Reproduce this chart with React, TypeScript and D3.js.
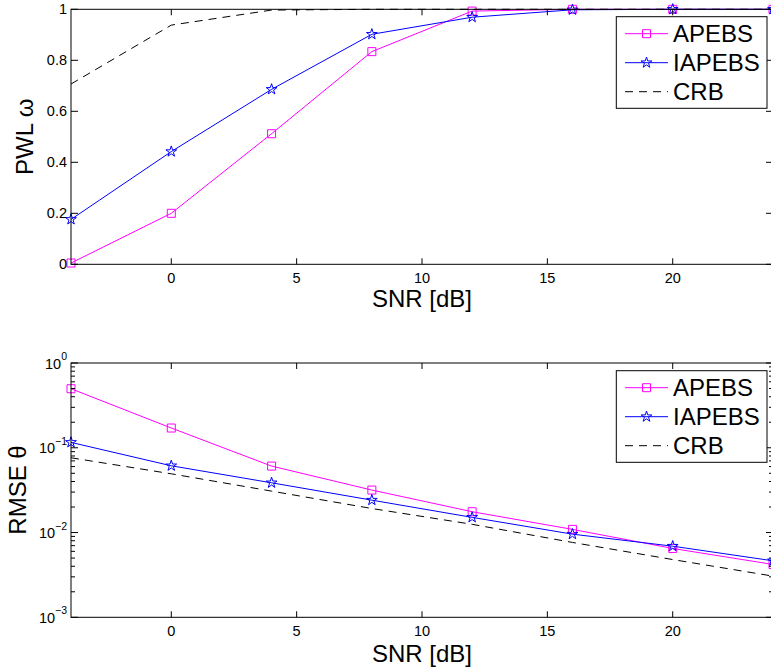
import React from "react";
import * as d3 from "d3";

const snr = [-4, 0, 4, 8, 12, 16, 20, 24];
const pwlApebs = [0.005, 0.2, 0.512, 0.834, 0.993, 1.0, 1.0, 1.0];
const pwlIapebs = [0.176, 0.442, 0.686, 0.902, 0.969, 0.998, 1.0, 1.0];
const pwlCrb = [0.707, 0.938, 0.997, 1, 1, 1, 1, 1];
const rmseApebs = [0.497, 0.171, 0.0608, 0.0317, 0.0176, 0.0109, 0.00649, 0.0042];
const rmseIapebs = [0.1157, 0.0613, 0.0386, 0.0241, 0.0151, 0.00957, 0.0069, 0.00464];
const rmseCrb = [0.0762, 0.0493, 0.0308, 0.0192, 0.0125, 0.00764, 0.0048, 0.00306];

const xTicks = [0, 5, 10, 15, 20];
const pwlTicks = [0, 0.2, 0.4, 0.6, 0.8, 1];
const rmseTicks = [1e-3, 1e-2, 1e-1, 1];
const rmseTickExp = ["−3", "−2", "−1", "0"];
const seriesNames = ["APEBS", "IAPEBS", "CRB"];

const FONT = "'Liberation Sans', Arial, Helvetica, sans-serif";
const MAG = "#ff00ff";
const BLUE = "#0000ff";

const X0 = 71, X1 = 773;
const x = d3.scaleLinear().domain([-4, 24]).range([X0, X1]);
const yTop = d3.scaleLinear().domain([0, 1]).range([264.3, 9.3]);
const yBot = d3.scaleLog().domain([1e-3, 1]).range([617.3, 363]);

const squarePath = d3.symbol().type(d3.symbolSquare).size(64)() as string;
const starPath = d3.symbol().type(d3.symbolStar).size(36)() as string;

type Scale = (v: number) => number;

function Series({ ys, y, color, marker, dashed }: { ys: number[]; y: Scale; color: string; marker?: string; dashed?: boolean }) {
  const line = d3
    .line<number>()
    .x((_, i) => x(snr[i]))
    .y((d) => y(d));
  return (
    <g>
      <path d={line(ys) as string} fill="none" stroke={color} strokeWidth={1} strokeDasharray={dashed ? "8,6" : undefined} />
      {marker &&
        ys.map((d, i) => (
          <path key={i} d={marker} transform={`translate(${x(snr[i])},${y(d)})`} fill="none" stroke={color} strokeWidth={1} />
        ))}
    </g>
  );
}

function Legend({ top }: { top: number }) {
  const left = 616.3;
  const items = [
    { name: seriesNames[0], color: MAG, marker: squarePath, dashed: false },
    { name: seriesNames[1], color: BLUE, marker: starPath, dashed: false },
    { name: seriesNames[2], color: "#000", marker: undefined, dashed: true },
  ];
  const offs = [17, 46, 75];
  return (
    <g>
      <rect x={left} y={top} width={150.7} height={91.6} fill="#fff" stroke="#000" strokeWidth={1} />
      {items.map((it, i) => {
        const yy = top + offs[i];
        return (
          <g key={i}>
            <line x1={625} x2={668} y1={yy} y2={yy} stroke={it.color} strokeWidth={1} strokeDasharray={it.dashed ? "8,6" : undefined} />
            {it.marker && <path d={it.marker} transform={`translate(646.5,${yy})`} fill="none" stroke={it.color} strokeWidth={1} />}
            <text x={673} y={yy + 8.5} fontSize={24} fontFamily={FONT} fill="#000">
              {it.name}
            </text>
          </g>
        );
      })}
    </g>
  );
}

function XAxis({ yTopPx, yBotPx, labelY }: { yTopPx: number; yBotPx: number; labelY: number }) {
  return (
    <g>
      {xTicks.map((t) => (
        <g key={t}>
          <line x1={x(t)} x2={x(t)} y1={yBotPx} y2={yBotPx - 6} stroke="#000" strokeWidth={1} />
          <line x1={x(t)} x2={x(t)} y1={yTopPx} y2={yTopPx + 6} stroke="#000" strokeWidth={1} />
          <text x={x(t)} y={yBotPx + 19} textAnchor="middle" fontSize={14.5} fontFamily={FONT} fill="#000">
            {t}
          </text>
        </g>
      ))}
      <text x={(X0 + X1) / 2} y={labelY} textAnchor="middle" fontSize={24} fontFamily={FONT} fill="#000">
        SNR [dB]
      </text>
    </g>
  );
}

export default function App() {
  const minor: number[] = [];
  for (let e = -3; e < 0; e++) for (let m = 2; m <= 9; m++) minor.push(m * Math.pow(10, e));
  const t0 = yTop.range()[1], b0 = yTop.range()[0];
  const t1 = yBot.range()[1], b1 = yBot.range()[0];
  return (
    <svg width={771} height={672} style={{ position: "absolute", left: 0, top: 0, background: "#fff" }}>
      <rect x={0} y={0} width={771} height={672} fill="#fff" />
      {/* top plot */}
      <g>
        <Series ys={pwlApebs} y={yTop} color={MAG} marker={squarePath} />
        <Series ys={pwlIapebs} y={yTop} color={BLUE} marker={starPath} />
        <Series ys={pwlCrb} y={yTop} color="#000" dashed />
        <rect x={X0} y={t0} width={X1 - X0} height={b0 - t0} fill="none" stroke="#000" strokeWidth={1} />
        {pwlTicks.map((t) => (
          <g key={t}>
            <line x1={X0} x2={X0 + 7} y1={yTop(t)} y2={yTop(t)} stroke="#000" />
            <line x1={X1} x2={X1 - 7} y1={yTop(t)} y2={yTop(t)} stroke="#000" />
            <text x={67} y={yTop(t) + 5} textAnchor="end" fontSize={14.5} fontFamily={FONT} fill="#000">
              {t}
            </text>
          </g>
        ))}
        <XAxis yTopPx={t0} yBotPx={b0} labelY={306.7} />
        <text transform={`translate(33,136.7) rotate(-90)`} textAnchor="middle" fontSize={24} fontFamily={FONT} fill="#000">
          PWL ω
        </text>
        <Legend top={16.7} />
      </g>
      {/* bottom plot */}
      <g>
        <Series ys={rmseApebs} y={yBot} color={MAG} marker={squarePath} />
        <Series ys={rmseIapebs} y={yBot} color={BLUE} marker={starPath} />
        <Series ys={rmseCrb} y={yBot} color="#000" dashed />
        <rect x={X0} y={t1} width={X1 - X0} height={b1 - t1} fill="none" stroke="#000" strokeWidth={1} />
        {minor.map((t, i) => (
          <g key={i}>
            <line x1={X0} x2={X0 + 4} y1={yBot(t)} y2={yBot(t)} stroke="#000" />
            <line x1={X1} x2={X1 - 4} y1={yBot(t)} y2={yBot(t)} stroke="#000" />
          </g>
        ))}
        {rmseTicks.map((t, i) => (
          <g key={t}>
            <line x1={X0} x2={X0 + 7} y1={yBot(t)} y2={yBot(t)} stroke="#000" />
            <line x1={X1} x2={X1 - 7} y1={yBot(t)} y2={yBot(t)} stroke="#000" />
            <text x={67} y={yBot(t) + 5.5} textAnchor="end" fontSize={14.5} fontFamily={FONT} fill="#000">
              10
              <tspan dy={-8.5} fontSize={10.5}>
                {rmseTickExp[i]}
              </tspan>
            </text>
          </g>
        ))}
        <XAxis yTopPx={t1} yBotPx={b1} labelY={661.7} />
        <text transform={`translate(26,490) rotate(-90)`} textAnchor="middle" fontSize={24} fontFamily={FONT} fill="#000">
          RMSE θ
        </text>
        <Legend top={370.7} />
      </g>
    </svg>
  );
}
